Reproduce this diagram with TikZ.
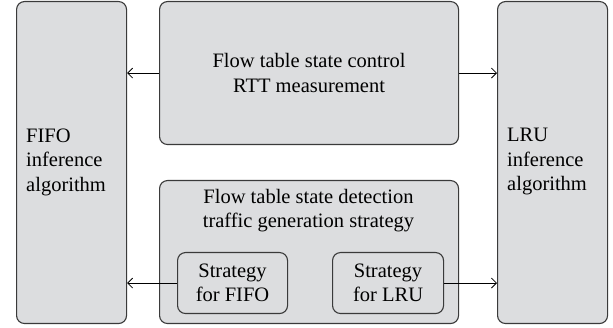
\documentclass[tikz,border=0pt]{standalone}
\usepackage{fontspec}
\setmainfont{Liberation Serif}
\usetikzlibrary{arrows.meta}
\definecolor{boxfill}{HTML}{DCDDDF}
\definecolor{boxline}{HTML}{3A3A3A}
\tikzset{
  box/.style={draw=boxline, fill=boxfill, rounded corners=8pt, line width=1.1pt, inner sep=0pt},
  lbl/.style={font=\fontsize{20.5}{24.5}\selectfont, inner sep=0pt},
  conn/.style={draw=black, line width=0.8pt, -{Straight Barb[length=5pt,width=10pt]}}
}
\begin{document}
\begin{tikzpicture}[x=1pt,y=-1pt]
\useasboundingbox (0,0) rectangle (613,328);
% boxes
\node[box, minimum width=110pt, minimum height=322pt, anchor=north west] (fifo) at (16,1) {};
\node[box, minimum width=110pt, minimum height=322pt, anchor=north west] (lru) at (497,1) {};
\node[box, minimum width=299pt, minimum height=143pt, anchor=north west] (ctrl) at (159,1) {};
\node[box, minimum width=299pt, minimum height=143pt, anchor=north west] (det) at (159,180) {};
\node[box, minimum width=110pt, minimum height=61pt, anchor=north west] (sfifo) at (177,252) {};
\node[box, minimum width=111pt, minimum height=61pt, anchor=north west] (slru) at (332,252) {};
% texts
\node[lbl, align=left, anchor=west] (fifot) at (26,162) {FIFO\\inference\\algorithm};
\node[lbl, align=left, anchor=west] (lrut) at (507,162) {LRU\\inference\\algorithm};
\node[lbl, align=center] (ctrlt) at (ctrl.center) {Flow table state control\\RTT measurement};
\node[lbl, align=center, anchor=north] (dett) at (308.5,189) {Flow table state detection\\traffic generation strategy};
\node[lbl, align=center] (sfifot) at (sfifo.center) {Strategy\\for FIFO};
\node[lbl, align=center] (slrut) at (slru.center) {Strategy\\for LRU};
% connectors
\draw[conn] (ctrl.west) -- (ctrl.west -| fifo.east);
\draw[conn] (ctrl.east) -- (ctrl.east -| lru.west);
\draw[conn] (sfifo.west) -- (sfifo.west -| fifo.east);
\draw[conn] (slru.east) -- (slru.east -| lru.west);
\end{tikzpicture}
\end{document}
